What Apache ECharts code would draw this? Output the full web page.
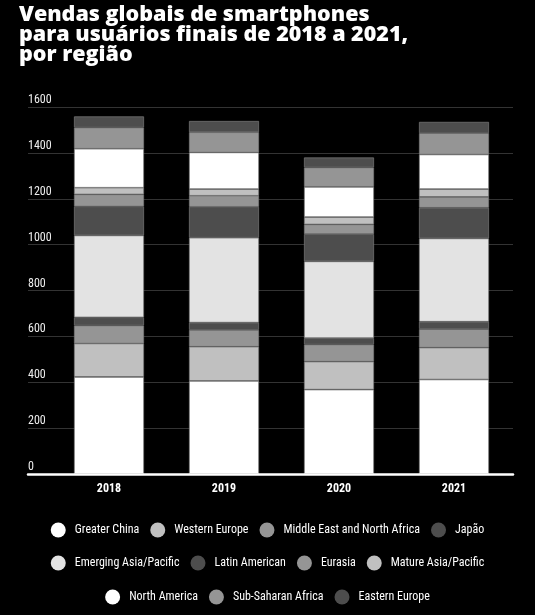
<!DOCTYPE html>
<html>
<head>
<meta charset="utf-8">
<script src="https://cdn.jsdelivr.net/npm/echarts@6/dist/echarts.min.js"></script>
<style>
  html, body { margin: 0; padding: 0; background: #000; }
  #chart { width: 535px; height: 615px; }
</style>
</head>
<body>
<div id="chart"></div>
<script>
// dados (milhões de unidades)
var years = ['2018', '2019', '2020', '2021']
var greaterChina = [423, 406, 368, 412]
var westernEurope = [146, 149, 122, 139]
var middleEastNorthAfrica = [78, 73, 74, 81]
var japao = [36, 32, 28, 32]
var emergingAsiaPacific = [357, 370, 335, 363]
var latinAmerican = [127, 135, 119, 134]
var eurasia = [52, 48, 42, 47]
var matureAsiaPacific = [29, 29, 32, 34]
var northAmerica = [170, 160, 132, 151]
var subSaharanAfrica = [92, 88, 84, 93]
var easternEurope = [49, 49, 44, 49]

var legendRow1 = ['Greater China', 'Western Europe', 'Middle East and North Africa', 'Japão']
var legendRow2 = ['Emerging Asia/Pacific', 'Latin American', 'Eurasia', 'Mature Asia/Pacific']
var legendRow3 = ['North America', 'Sub-Saharan Africa', 'Eastern Europe']

// Roboto em largura condensada (o canvas aceita font-stretch no shorthand)
var narrow = 'Roboto, sans-serif'

function barSerie (name, data, color) {
  return {
    name: name,
    type: 'bar',
    stack: 'total',
    xAxisIndex: 1,
    yAxisIndex: 1,
    barWidth: 70,
    data: data,
    itemStyle: { color: color, borderColor: '#7a7a7a', borderWidth: 0.7 }
  }
}

function legendRow (data, top) {
  return {
    data: data,
    top: top,
    left: 'center',
    padding: 0,
    icon: 'circle',
    itemWidth: 15,
    itemHeight: 15,
    itemGap: 11,
    itemStyle: { borderWidth: 0 },
    textStyle: { color: '#fff', fontSize: 12, fontWeight: 'condensed', fontFamily: narrow, padding: [0, 0, 0, 4] }
  }
}

var myChart = echarts.init(document.getElementById('chart'))
myChart.setOption({
  backgroundColor: '#000',
  animation: false,
  title: {
    text: 'Vendas globais de smartphones\npara usuários finais de 2018 a 2021,\npor região',
    left: 14,
    top: 0,
    textStyle: {
      color: '#fff',
      fontSize: 21.5,
      fontWeight: 800,
      fontFamily: '"Open Sans", sans-serif',
      lineHeight: 20
    }
  },
  legend: [
    legendRow(legendRow1, 522.5),
    legendRow(legendRow2, 555.5),
    legendRow(legendRow3, 589.5)
  ],
  grid: [
    { left: 28, right: 22, top: 107, bottom: 141 },
    { left: 51.5, right: 23.5, top: 107, bottom: 141 }
  ],
  xAxis: [
    {
      type: 'value',
      gridIndex: 0,
      z: 5,
      axisLine: { show: true, onZero: false, lineStyle: { color: '#fff', width: 2.5 } },
      axisTick: { show: false },
      axisLabel: { show: false },
      splitLine: { show: false }
    },
    {
      type: 'category',
      gridIndex: 1,
      data: years,
      axisLine: { show: false },
      axisTick: { show: false },
      axisLabel: { color: '#fff', fontSize: 12, fontWeight: 'bold condensed', fontFamily: narrow, margin: 9 }
    }
  ],
  yAxis: [
    {
      type: 'value',
      gridIndex: 0,
      min: 0,
      max: 1600,
      interval: 200,
      axisLine: { show: false },
      axisTick: { show: false },
      axisLabel: {
        inside: true,
        margin: 0,
        color: '#eee',
        fontSize: 12,
        fontWeight: 'condensed',
        fontFamily: narrow,
        verticalAlign: 'bottom',
        padding: [0, 0, 1, 0],
        formatter: function (v) { return String(v) }
      },
      splitLine: { lineStyle: { color: '#333', width: 1 } }
    },
    {
      type: 'value',
      gridIndex: 1,
      min: 0,
      max: 1600,
      interval: 200,
      axisLine: { show: false },
      axisTick: { show: false },
      axisLabel: { show: false },
      splitLine: { show: false }
    }
  ],
  series: [
    barSerie('Greater China', greaterChina, '#ffffff'),
    barSerie('Western Europe', westernEurope, '#c0c0c0'),
    barSerie('Middle East and North Africa', middleEastNorthAfrica, '#959595'),
    barSerie('Japão', japao, '#4d4d4d'),
    barSerie('Emerging Asia/Pacific', emergingAsiaPacific, '#e3e3e3'),
    barSerie('Latin American', latinAmerican, '#4d4d4d'),
    barSerie('Eurasia', eurasia, '#959595'),
    barSerie('Mature Asia/Pacific', matureAsiaPacific, '#c0c0c0'),
    barSerie('North America', northAmerica, '#ffffff'),
    barSerie('Sub-Saharan Africa', subSaharanAfrica, '#959595'),
    barSerie('Eastern Europe', easternEurope, '#4d4d4d')
  ]
})
</script>
</body>
</html>
